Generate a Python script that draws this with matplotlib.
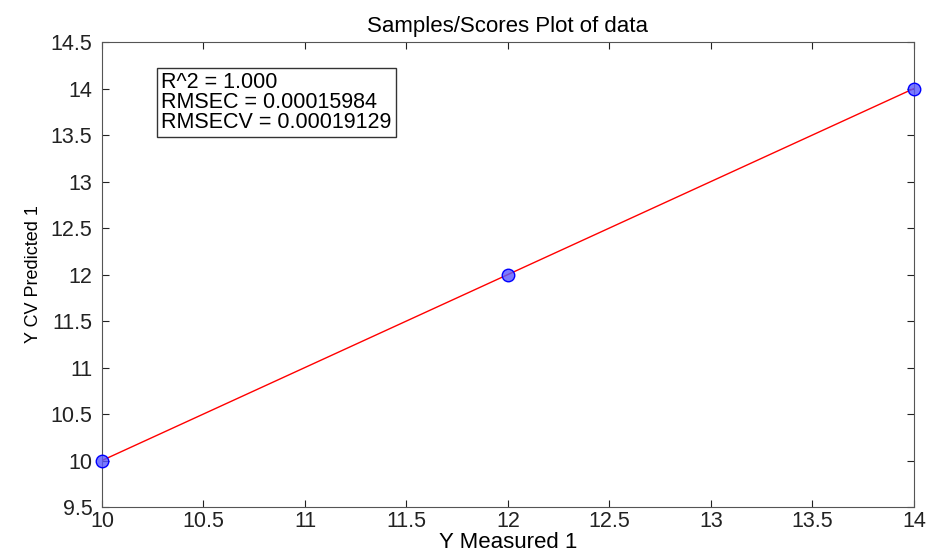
import matplotlib
matplotlib.use("Agg")
import matplotlib.pyplot as plt

# data
y_measured = [10, 12, 14]
y_cv_predicted = [10, 12, 14]
fit_x = [10, 14]
fit_y = [10, 14]
stats_text = "R^2 = 1.000\nRMSEC = 0.00015984\nRMSECV = 0.00019129"

plt.rcParams['font.family'] = ['Liberation Sans', 'DejaVu Sans']

fig = plt.figure(figsize=(9.28, 5.55), dpi=100)
ax = fig.add_axes([102 / 928, 1 - 507 / 555, (914 - 102) / 928, (507 - 42) / 555])

ax.plot(fit_x, fit_y, color='red', lw=1)
ax.plot(y_measured, y_cv_predicted, 'o', ms=9, mfc=(0.35, 0.35, 1.0, 0.8), mec='blue',
        mew=1, clip_on=False, zorder=3)

ax.set_xlim(10, 14)
ax.set_ylim(9.5, 14.5)
ax.set_xticks([10, 10.5, 11, 11.5, 12, 12.5, 13, 13.5, 14])
ax.set_xticklabels(['10', '10.5', '11', '11.5', '12', '12.5', '13', '13.5', '14'])
ax.set_yticks([9.5, 10, 10.5, 11, 11.5, 12, 12.5, 13, 13.5, 14, 14.5])
ax.set_yticklabels(['9.5', '10', '10.5', '11', '11.5', '12', '12.5', '13', '13.5', '14', '14.5'])
ax.tick_params(direction='in', top=True, right=True, labelsize=15.5, length=5,
               colors='#222222')
ax.tick_params(axis='y', pad=7)
ax.tick_params(axis='x', pad=3)
for s in ax.spines.values():
    s.set_color('#555555')

ax.set_title('Samples/Scores Plot of data', fontsize=16, pad=7)
ax.set_xlabel('Y Measured 1', fontsize=16, labelpad=0)
ax.set_ylabel('Y CV Predicted 1', fontsize=13, labelpad=6)

ax.text(0.073, 0.935, stats_text, transform=ax.transAxes, fontsize=15.5, va='top',
        ha='left', linespacing=0.92,
        bbox=dict(boxstyle='square,pad=0.2', fc='white', ec='#333333', lw=1))

fig.savefig('out.png', dpi=100)
